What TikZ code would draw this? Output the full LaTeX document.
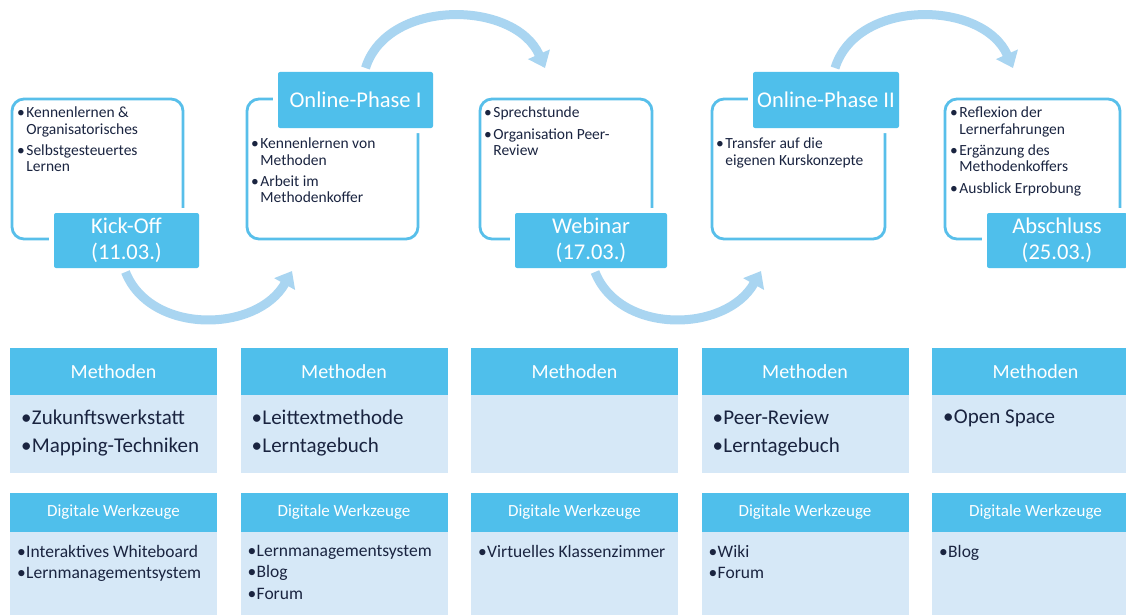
\documentclass[tikz,border=0pt]{standalone}
\usepackage{fontspec}
\setmainfont{Carlito}
\usetikzlibrary{arrows.meta,calc}
\definecolor{lblue}{HTML}{4FBFEB}
\definecolor{oline}{HTML}{58BFEA}
\definecolor{bodyc}{HTML}{D6E8F7}
\definecolor{arrc}{HTML}{A9D5F1}
\definecolor{txtc}{HTML}{1A2440}
\newcommand{\bul}{•\hspace{1.5pt}}
\newcommand{\ind}{\hphantom{•\hspace{1.5pt}}}
\newcommand{\bulb}{•\hspace{0.3pt}}
\begin{document}
\begin{tikzpicture}[x=1pt,y=-1pt,
  outbox/.style={draw=oline, line width=2.8pt, rounded corners=12pt, anchor=north west, inner sep=0pt, outer sep=0pt, minimum height=140pt},
  lab/.style={fill=lblue, rounded corners=2pt, text=white, font=\fontsize{22.5}{26}\selectfont, align=center, anchor=north west, inner sep=0pt, outer sep=0pt, minimum height=55pt, preaction={draw=white, line width=10pt}},
  btxt/.style={anchor=north west, inner sep=0pt, align=left, text=txtc, font=\fontsize{15.5}{16.3}\selectfont},
  mhdr/.style={fill=lblue, text=white, anchor=north west, minimum width=207pt, minimum height=47pt, inner sep=0pt, outer sep=0pt, font=\fontsize{20}{24}\selectfont},
  mbody/.style={fill=bodyc, anchor=north west, minimum width=207pt, minimum height=78pt, inner sep=0pt, outer sep=0pt},
  mtxt/.style={anchor=north west, inner sep=0pt, align=left, text=txtc, font=\fontsize{21}{28}\selectfont},
  dhdr/.style={fill=lblue, text=white, anchor=north west, minimum width=207pt, minimum height=39pt, inner sep=0pt, outer sep=0pt, font=\fontsize{17}{20}\selectfont},
  dbody/.style={fill=bodyc, anchor=north west, minimum width=207pt, minimum height=100pt, inner sep=0pt, outer sep=0pt},
  dtxt/.style={anchor=north west, inner sep=0pt, align=left, text=txtc, font=\fontsize{17.5}{21.5}\selectfont},
  arr/.style={draw=arrc, line width=9pt, -{Triangle[length=15pt,width=23pt]}}
]
\useasboundingbox (0,0) rectangle (1126,615);
\fill[white] (0,0) rectangle (1126,615);
\clip (0,0) rectangle (1126,615);

% top outlined boxes
\node[outbox, minimum width=171pt] (b1) at (12,99) {};
\node[outbox, minimum width=171pt] (b2) at (247,99) {};
\node[outbox, minimum width=172pt] (b3) at (480,99) {};
\node[outbox, minimum width=173pt] (b4) at (712,99) {};
\node[outbox, minimum width=175pt] (b5) at (945,99) {};

% labels
\node[lab, minimum width=145pt] (l1) at (54,213) {Kick-Off\\(11.03.)};
\node[lab, minimum width=155pt, minimum height=56pt] (l2) at (278,72) {Online-Phase I};
\node[lab, minimum width=152pt] (l3) at (515,213) {Webinar\\(17.03.)};
\node[lab, minimum width=146pt, minimum height=56pt] (l4) at (753,72) {Online-Phase II};
\node[lab, minimum width=140pt] (l5) at (987,213) {Abschluss\\(25.03.)};

% box texts
\node[btxt] (t1) at (17,107) {\bul Kennenlernen \&\\\ind Organisatorisches\\[5pt]\bul Selbstgesteuertes\\\ind Lernen};
\node[btxt] (t2) at (251,138) {\bul Kennenlernen von\\\ind Methoden\\[5pt]\bul Arbeit im\\\ind Methodenkoffer};
\node[btxt] (t3) at (484,107) {\bul Sprechstunde\\[5pt]\bul Organisation Peer-\\\ind Review};
\node[btxt] (t4) at (716,138) {\bul Transfer auf die\\\ind eigenen Kurskonzepte};
\node[btxt] (t5) at (950,107) {\bul Reflexion der\\\ind Lernerfahrungen\\[5pt]\bul Ergänzung des\\\ind Methodenkoffers\\[5pt]\bul Ausblick Erprobung};

% arrows
\coordinate (a1s) at ($(l1.south)+(-1,4)$);
\coordinate (a1e) at ($(b2.south west)+(45,32)$);
\coordinate (a2s) at ($(l2.north)+(10,-4)$);
\coordinate (a2e) at ($(b3.north west)+(65,-31)$);
\coordinate (a3s) at ($(l3.south)+(4,4)$);
\coordinate (a3e) at ($(b4.south west)+(49,32)$);
\coordinate (a4s) at ($(l4.north)+(9,-4)$);
\coordinate (a4e) at ($(b5.north west)+(68,-31)$);
\draw[arr] (a1s) .. controls +(25,63) and +(-35,62) .. (a1e);
\draw[arr] (a2s) .. controls +(22,-70) and +(-30,-68) .. (a2e);
\draw[arr] (a3s) .. controls +(25,63) and +(-35,62) .. (a3e);
\draw[arr] (a4s) .. controls +(22,-70) and +(-30,-68) .. (a4e);

% Methoden boxes
\foreach \i/\x in {1/10,2/240.5,3/471,4/701.5,5/932}{
  \node[mhdr] (mh\i) at (\x,348) {Methoden};
  \node[mbody] (mb\i) at (\x,395) {};
  \node[dhdr] (dh\i) at (\x,493) {Digitale Werkzeuge};
  \node[dbody] (db\i) at (\x,532) {};
}
\node[mtxt] (m1) at ($(mb1.north west)+(11,14.5)$) {\bulb Zukunftswerkstatt\\\bulb Mapping-Techniken};
\node[mtxt] (m2) at ($(mb2.north west)+(11,14.5)$) {\bulb Leittextmethode\\\bulb Lerntagebuch};
\node[mtxt] (m4) at ($(mb4.north west)+(11,14.5)$) {\bulb Peer-Review\\\bulb Lerntagebuch};
\node[mtxt] (m5) at ($(mb5.north west)+(11,14.5)$) {\bulb Open Space};

\node[dtxt] (d1) at ($(db1.north west)+(7,13)$) {\bulb Interaktives Whiteboard\\\bulb Lernmanagementsystem};
\node[dtxt] (d2) at ($(db2.north west)+(7,13)$) {\bulb Lernmanagementsystem\\\bulb Blog\\\bulb Forum};
\node[dtxt] (d3) at ($(db3.north west)+(7,13)$) {\bulb Virtuelles Klassenzimmer};
\node[dtxt] (d4) at ($(db4.north west)+(7,13)$) {\bulb Wiki\\\bulb Forum};
\node[dtxt] (d5) at ($(db5.north west)+(7,13)$) {\bulb Blog};
\end{tikzpicture}
\end{document}
